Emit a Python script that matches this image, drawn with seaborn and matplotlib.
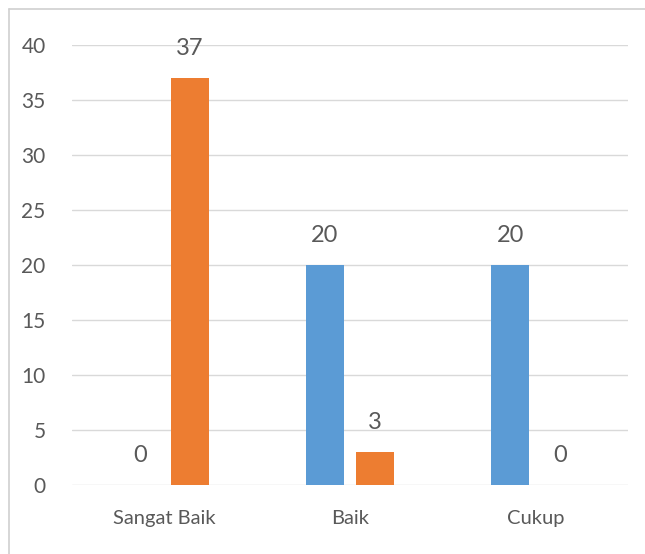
import matplotlib
matplotlib.use("Agg")
import matplotlib.pyplot as plt
import seaborn as sns
import pandas as pd
from matplotlib.lines import Line2D

# ---------------------------------------------------------------------------
# Data
# ---------------------------------------------------------------------------
categories = ["Sangat Baik", "Baik", "Cukup"]
series_names = ["Series1", "Series2"]
series1_values = [0, 20, 20]
series2_values = [37, 3, 0]
y_ticks = [0, 5, 10, 15, 20, 25, 30, 35, 40]

BLUE = "#5B9BD5"
ORANGE = "#ED7D31"
TEXT = "#595959"
GRID = "#D9D9D9"

df = pd.DataFrame({
    "kategori": categories * 2,
    "seri": [series_names[0]] * 3 + [series_names[1]] * 3,
    "nilai": series1_values + series2_values,
})

sns.set_style("white")
plt.rcParams["font.family"] = ["Lato", "DejaVu Sans"]

fig = plt.figure(figsize=(6.45, 5.54), dpi=100)
ax = fig.add_axes([0.1116, 0.1245, 0.862, 0.7943])

sns.barplot(
    data=df, x="kategori", y="nilai", hue="seri",
    order=categories, hue_order=series_names,
    palette=[BLUE, ORANGE], saturation=1,
    width=0.54, gap=0.24, linewidth=0, legend=False, ax=ax,
)

for container in ax.containers:
    ax.bar_label(container, fmt="%g", padding=14, fontsize=17, color=TEXT)

ax.set_ylim(0, 40)
ax.set_xlim(-0.5, len(categories) - 0.5)
ax.set_yticks(y_ticks)
ax.yaxis.grid(True, color=GRID, linewidth=1.0)
ax.set_axisbelow(True)
for side in ["top", "right", "left", "bottom"]:
    ax.spines[side].set_visible(False)
ax.tick_params(axis="y", length=0, pad=19, labelsize=15, labelcolor=TEXT)
ax.tick_params(axis="x", length=0, pad=18, labelsize=14.5, labelcolor=TEXT)
ax.set_xlabel("")
ax.set_ylabel("")

# chart frame (only top and left edges are visible in the crop)
frame_color = "#D0D0D0"
fig.add_artist(Line2D([9 / 645, 9 / 645], [-0.01, 1 - 9 / 554], transform=fig.transFigure,
                      color=frame_color, linewidth=1.2))
fig.add_artist(Line2D([9 / 645, 1.01], [1 - 9 / 554, 1 - 9 / 554], transform=fig.transFigure,
                      color=frame_color, linewidth=1.2))

fig.savefig("out.png", dpi=100)
